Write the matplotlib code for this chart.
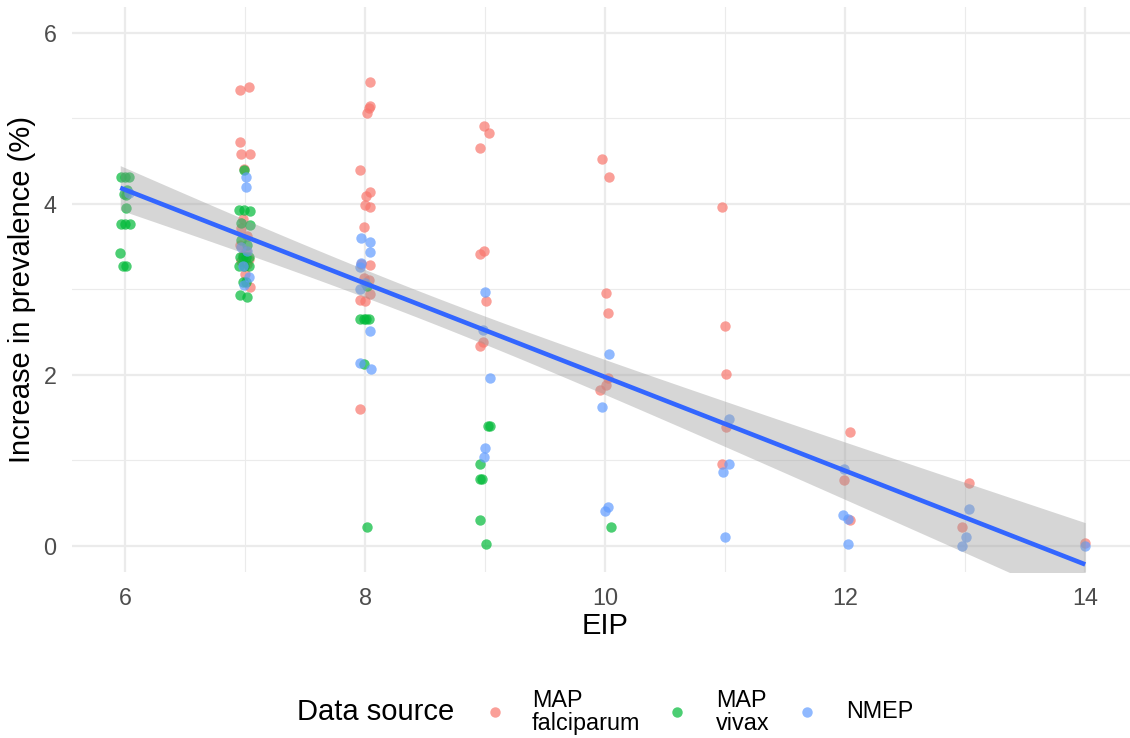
import numpy as np
import matplotlib
matplotlib.use("Agg")
import matplotlib.pyplot as plt
from matplotlib.lines import Line2D

plt.rcParams['font.family'] = ['Liberation Sans', 'DejaVu Sans']

# ---------------- data ----------------
series_names = ["MAP\nfalciparum", "MAP\nvivax", "NMEP"]
series_colors = ["#F8766D", "#00BA38", "#619CFF"]

falc_x = [6.96, 7.03, 6.96, 6.97, 7.04, 6.99, 6.98, 6.97, 7.02, 6.96, 7.01, 6.98, 7.03, 6.97, 7.02, 7.04, 7.00,
          8.04, 8.04, 8.03, 8.02, 7.96, 8.04, 8.01, 8.00, 8.04, 7.99, 7.97, 8.04, 7.99, 8.03, 8.04, 7.96, 8.00, 7.96,
          8.99, 9.03, 8.96, 8.96, 8.99, 9.01, 8.98, 8.96,
          9.97, 10.03, 10.01, 10.02, 10.02, 10.01, 9.96,
          10.97, 11.00, 11.01, 11.01, 10.97,
          12.04, 11.99, 12.04,
          13.03, 12.97,
          14.00]
falc_y = [5.33, 5.37, 4.73, 4.59, 4.58, 4.41, 3.82, 3.72, 3.62, 3.52, 3.45, 3.40, 3.36, 3.33, 3.30, 3.03, 3.18,
          5.43, 5.15, 5.12, 5.06, 4.40, 4.14, 4.09, 3.99, 3.96, 3.73, 3.30, 3.29, 3.13, 3.11, 2.95, 2.88, 2.87, 1.60,
          4.91, 4.83, 4.65, 3.42, 3.45, 2.87, 2.39, 2.34,
          4.53, 4.31, 2.96, 2.73, 1.97, 1.88, 1.82,
          3.96, 2.57, 2.01, 1.39, 0.96,
          1.33, 0.77, 0.30,
          0.74, 0.22,
          0.03]

vivax_x = [5.97, 6.00, 6.03, 6.02, 5.99, 6.01, 6.01, 5.97, 6.00, 6.04, 5.96, 5.98, 6.01,
           6.95, 6.99, 7.04, 6.97, 7.04, 6.97, 7.02, 6.96, 6.98, 7.01, 7.03, 6.95, 6.99, 7.03, 6.98, 7.01,
           6.96, 7.02, 6.99,
           8.02, 7.96, 7.99, 8.01, 8.03, 7.99, 8.02,
           9.02, 9.04, 8.96, 8.96, 8.97, 8.96, 9.01,
           10.05]
vivax_y = [4.31, 4.31, 4.31, 4.16, 4.12, 4.10, 3.95, 3.76, 3.76, 3.76, 3.43, 3.27, 3.27,
           3.93, 3.93, 3.92, 3.78, 3.75, 3.58, 3.52, 3.38, 3.38, 3.38, 3.38, 3.27, 3.27, 3.27, 3.09, 3.09,
           2.94, 2.91, 4.40,
           3.04, 2.65, 2.65, 2.65, 2.65, 2.13, 0.22,
           1.40, 1.40, 0.96, 0.78, 0.78, 0.30, 0.02,
           0.22]

nmep_x = [6.03,
          7.01, 7.01, 6.97, 6.98, 7.03, 6.99, 7.02,
          7.97, 8.04, 8.04, 7.97, 7.96, 8.00, 7.96, 8.04, 7.96, 8.05,
          9.00, 8.98, 9.04, 9.00, 8.99,
          10.03, 9.97, 10.02, 10.00,
          11.03, 11.03, 10.98, 11.00,
          11.99, 11.98, 12.02, 12.02,
          13.03, 13.01, 12.97,
          14.00]
nmep_y = [4.13,
          4.31, 4.20, 3.50, 3.27, 3.15, 3.05, 3.45,
          3.60, 3.55, 3.44, 3.31, 3.26, 3.08, 3.01, 2.51, 2.14, 2.07,
          2.97, 2.53, 1.97, 1.15, 1.04,
          2.25, 1.63, 0.46, 0.41,
          1.49, 0.96, 0.86, 0.11,
          0.90, 0.36, 0.31, 0.02,
          0.43, 0.10, 0.00,
          0.00]

x_ticks = [6, 8, 10, 12, 14]
y_ticks = [0, 2, 4, 6]
x_label = "EIP"
y_label = "Increase in prevalence (%)"
legend_title = "Data source"

# ---------------- figure ----------------
W, H = 1130, 738
fig = plt.figure(figsize=(W / 100, H / 100), dpi=100)
fig.patch.set_facecolor("white")

pl, pr, pt, pb = 72, 1138, 7.3, 571.6
ax = fig.add_axes([pl / W, 1 - pb / H, (pr - pl) / W, (pb - pt) / H])
ax.set_xlim(5.558, 14.44)
ax.set_ylim(-0.3, 6.3)
for s in ax.spines.values():
    s.set_visible(False)

ax.set_xticks(x_ticks)
ax.set_yticks(y_ticks)
ax.set_xticks([7, 9, 11, 13], minor=True)
ax.set_yticks([1, 3, 5], minor=True)
ax.grid(True, which="major", color="#EBEBEB", linewidth=1.6, zorder=0)
ax.grid(True, which="minor", color="#EBEBEB", linewidth=0.8, zorder=0)
ax.set_axisbelow(True)
ax.tick_params(which="both", length=0)
ax.tick_params(axis="x", pad=11, labelsize=16.8, labelcolor="#4D4D4D")
ax.tick_params(axis="y", pad=11, labelsize=16.8, labelcolor="#4D4D4D")

xs_all = [falc_x, vivax_x, nmep_x]
ys_all = [falc_y, vivax_y, nmep_y]
for xs, ys, c in zip(xs_all, ys_all, series_colors):
    ax.scatter(xs, ys, s=56, color=c, alpha=0.7, linewidths=0, zorder=2)

# linear model fit with 95% CI
X = np.concatenate([np.array(v) for v in xs_all])
Y = np.concatenate([np.array(v) for v in ys_all])
n = len(X)
b, a = np.polyfit(X, Y, 1)
resid = Y - (a + b * X)
sig = np.sqrt(np.sum(resid ** 2) / (n - 2))
xbar = X.mean()
sxx = np.sum((X - xbar) ** 2)
xg = np.linspace(X.min(), X.max(), 200)
yg = a + b * xg
se = sig * np.sqrt(1 / n + (xg - xbar) ** 2 / sxx)
tcrit = 1.976
ax.fill_between(xg, yg - tcrit * se, yg + tcrit * se, color="#999999", alpha=0.4, linewidth=0, zorder=3)
ax.plot(xg, yg, color="#3366FF", linewidth=3.3, zorder=4, solid_capstyle="butt")

# axis titles
fig.text((pl + pr) / 2 / W, 1 - 626 / H, x_label, ha="center", va="center", fontsize=21, color="black")
fig.text(22 / W, 1 - (pt + pb) / 2 / H, y_label, ha="center", va="center", rotation=90,
         fontsize=21, color="black")

# legend
ly = 1 - 712 / H
fig.text(297 / W, ly, legend_title, ha="left", va="center", fontsize=21, color="black")
key_x = [495, 677, 807]
lab_x = [532, 716, 846]
for name, c, kx, tx in zip(series_names, series_colors, key_x, lab_x):
    fig.add_artist(Line2D([kx / W], [ly], transform=fig.transFigure, marker="o", markersize=7.5,
                          markerfacecolor=c, markeredgewidth=0, alpha=0.7, linestyle="none"))
    fig.text(tx / W, ly, name, ha="left", va="center", fontsize=16.8, color="black", linespacing=1.05)

fig.savefig("out.png", dpi=100, facecolor="white")
